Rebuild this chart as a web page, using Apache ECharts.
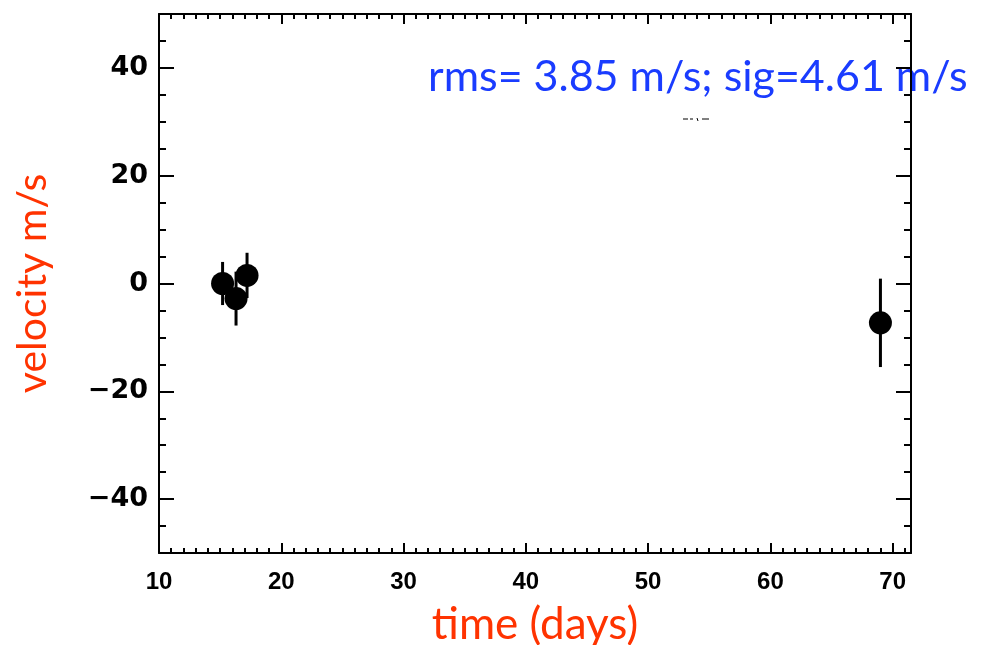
<!DOCTYPE html>
<html>
<head>
<meta charset="utf-8">
<script src="https://cdn.jsdelivr.net/npm/echarts@6/dist/echarts.min.js"></script>
<style>
  html, body { margin: 0; padding: 0; background: #ffffff; }
  #chart { width: 982px; height: 645px; }
</style>
</head>
<body>
<div id="chart"></div>
<script>
// Radial-velocity measurements: observation time, velocity and 1-sigma error
const times = [15.2, 16.3, 17.2, 69.0];
const velocities = [0.0, -2.8, 1.5, -7.3];
const errors = [4.0, 5.0, 4.2, 8.2];

// Axis ranges and tick labels
const xRange = [10, 71.5];
const yRange = [-50, 50];
const xTickValues = [10, 20, 30, 40, 50, 60, 70];
const yTickValues = [-40, -20, 0, 20, 40];
const xMinorStep = 1;
const yMinorStep = 5;

const xTitle = 'time (days)';
const yTitle = 'velocity m/s';
const statsText = 'rms= 3.85 m/s; sig=4.61 m/s';

const INK = '#000000';
const TITLE_RED = '#ff3300';
const STATS_BLUE = '#1a3cff';

const chart = echarts.init(document.getElementById('chart'), null, { renderer: 'canvas' });

const minus = v => (v < 0 ? '\u2212' + Math.abs(v) : String(v));

// Major axis: frame line, long inward ticks and (optionally) labels
function majorAxis(dim, position, range, ticks, withLabels, extra) {
  const isX = dim === 'x';
  return Object.assign({
    type: 'value',
    position: position,
    min: range[0],
    max: range[1],
    splitLine: { show: false },
    axisLine: { show: true, onZero: false, lineStyle: { color: INK, width: 2 } },
    axisTick: {
      show: true, inside: true, length: isX ? 10 : 15,
      customValues: ticks,
      lineStyle: { color: INK, width: 2 }
    },
    axisLabel: withLabels ? {
      show: true,
      customValues: ticks,
      formatter: minus,
      color: INK,
      fontFamily: isX ? 'Liberation Sans' : 'DejaVu Sans',
      fontWeight: 'bold',
      fontSize: isX ? 24 : 27,
      margin: isX ? 17 : 11
    } : { show: false }
  }, extra || {});
}

// Minor axis: only short inward ticks at a fixed step
function minorAxis(dim, position, range, step) {
  const isX = dim === 'x';
  return {
    type: 'value',
    position: position,
    min: range[0],
    max: range[1],
    interval: step,
    splitLine: { show: false },
    axisLine: { show: false, onZero: false },
    axisLabel: { show: false },
    axisTick: { show: true, inside: true, length: isX ? 5 : 7, lineStyle: { color: INK, width: 2 } }
  };
}

const points = times.map((t, i) => [t, velocities[i], errors[i]]);

const option = {
  backgroundColor: '#ffffff',
  animation: false,
  grid: { left: 159, right: 71, top: 14, bottom: 92, containLabel: false, outerBoundsMode: 'none' },
  xAxis: [
    majorAxis('x', 'bottom', xRange, xTickValues, true, {
      name: xTitle,
      nameLocation: 'middle',
      nameGap: 50,
      nameTextStyle: { color: TITLE_RED, fontFamily: 'Lato', fontSize: 44 }
    }),
    minorAxis('x', 'bottom', xRange, xMinorStep),
    majorAxis('x', 'top', xRange, xTickValues, false),
    minorAxis('x', 'top', xRange, xMinorStep)
  ],
  yAxis: [
    majorAxis('y', 'left', yRange, yTickValues, true, {
      name: yTitle,
      nameLocation: 'middle',
      nameRotate: 90,
      nameGap: 106,
      nameTextStyle: { color: TITLE_RED, fontFamily: 'Lato', fontSize: 41 }
    }),
    minorAxis('y', 'left', yRange, yMinorStep),
    majorAxis('y', 'right', yRange, yTickValues, false),
    minorAxis('y', 'right', yRange, yMinorStep)
  ],
  series: [
    {
      type: 'custom',
      name: 'error bars',
      xAxisIndex: 0,
      yAxisIndex: 0,
      data: points,
      z: 2,
      renderItem: function (params, api) {
        const x = api.value(0), y = api.value(1), e = api.value(2);
        const hi = api.coord([x, y + e]);
        const lo = api.coord([x, y - e]);
        return {
          type: 'line',
          shape: { x1: hi[0], y1: hi[1], x2: lo[0], y2: lo[1] },
          style: { stroke: INK, lineWidth: 3 }
        };
      }
    },
    {
      type: 'scatter',
      name: 'velocity',
      xAxisIndex: 0,
      yAxisIndex: 0,
      data: points.map(p => [p[0], p[1]]),
      symbol: 'circle',
      symbolSize: 23,
      itemStyle: { color: INK, opacity: 1 },
      z: 3
    }
  ],
  graphic: [
    {
      type: 'group',
      z: 100,
      children: [
        {
          type: 'rect',
          shape: { x: 420, y: 27, width: 562, height: 91 },
          style: { fill: '#ffffff' }
        },
        {
          type: 'text',
          x: 428,
          y: 77,
          style: {
            text: statsText,
            fill: STATS_BLUE,
            font: '43px Lato',
            textVerticalAlign: 'middle'
          }
        },
        // small stroke fragments just below the label box
        { type: 'line', shape: { x1: 683, y1: 119, x2: 688, y2: 119 }, style: { stroke: INK, lineWidth: 1 } },
        { type: 'line', shape: { x1: 690, y1: 119, x2: 693, y2: 119 }, style: { stroke: INK, lineWidth: 1 } },
        { type: 'line', shape: { x1: 697, y1: 118, x2: 698, y2: 121 }, style: { stroke: INK, lineWidth: 1 } },
        { type: 'line', shape: { x1: 702, y1: 119, x2: 709, y2: 119 }, style: { stroke: INK, lineWidth: 1 } }
      ]
    }
  ]
};

chart.setOption(option);
</script>
</body>
</html>
